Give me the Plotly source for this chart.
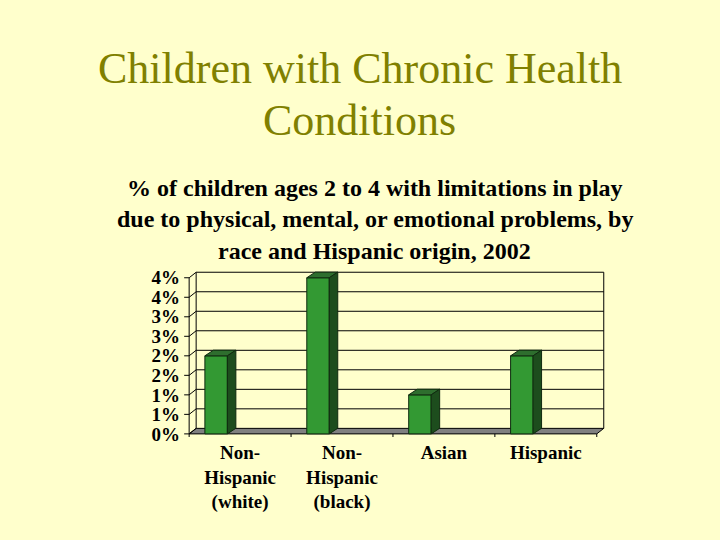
import plotly.graph_objects as go

# ---- data ----
categories = ["Non-<br>Hispanic<br>(white)", "Non-<br>Hispanic<br>(black)", "Asian", "Hispanic"]
values = [2.0, 4.0, 1.0, 2.0]
ytick_vals = [0, 0.5, 1, 1.5, 2, 2.5, 3, 3.5, 4]
ytick_text = ["0%", "1%", "1%", "2%", "2%", "3%", "3%", "4%", "4%"]
title_lines = ["Children with Chronic Health", "Conditions"]
subtitle_lines = ["% of children ages 2 to 4 with limitations in play",
                  "due to physical, mental, or emotional problems, by",
                  "race and Hispanic origin, 2002"]

# ---- geometry / styling ----
W, H = 720, 540
XR = [-0.58, 3.62]
YR = [-0.08, 4.25]
PX_X = 102.0
PX_Y = 38.9
plot_w = (XR[1] - XR[0]) * PX_X
plot_h = (YR[1] - YR[0]) * PX_Y
left = 189 + (XR[0] + 0.5) * PX_X
bottom_px = 433.5 + (0 - YR[0]) * PX_Y
top_px = bottom_px - plot_h
M_L, M_R = left, W - left - plot_w
M_T, M_B = top_px, H - bottom_px

def py2paper(py):
    return (bottom_px - py) / plot_h

BG = "#FFFFCC"
FONT = "Liberation Serif, Times New Roman, Times, serif"
dxf, dyf = 7 / PX_X, 5.5 / PX_Y      # floor/wall depth
dxb, dyb = 8.5 / PX_X, 5.6 / PX_Y    # bar depth
bar_shift = -24 / PX_X
bar_w = 22.5 / PX_X
ymax = ytick_vals[-1]
x0, x1 = -0.5, len(values) - 0.5

fig = go.Figure()

# front faces
xpos = [i + bar_shift for i in range(len(values))]
fig.add_trace(go.Bar(x=xpos, y=values, width=bar_w, marker=dict(color="#339933",
                     line=dict(color="#0f2a0f", width=1)), hoverinfo="skip"))

# top and side faces
top_x, top_y, side_x, side_y = [], [], [], []
for xc, v in zip(xpos, values):
    a, b = xc - bar_w / 2, xc + bar_w / 2
    top_x += [a, b, b + dxb, a + dxb, a, None]
    top_y += [v, v, v + dyb, v + dyb, v, None]
    side_x += [b, b + dxb, b + dxb, b, b, None]
    side_y += [0, dyb, v + dyb, v, 0, None]
fig.add_trace(go.Scatter(x=top_x, y=top_y, fill="toself", fillcolor="#2E6E2E",
                         mode="lines", line=dict(color="#0f2a0f", width=1), hoverinfo="skip"))
fig.add_trace(go.Scatter(x=side_x, y=side_y, fill="toself", fillcolor="#1D4D1D",
                         mode="lines", line=dict(color="#0f2a0f", width=1), hoverinfo="skip"))

shapes = []
LINE = dict(color="black", width=1)
# floor
shapes.append(dict(type="path", layer="below",
                   path=f"M {x0} 0 L {x1} 0 L {x1+dxf} {dyf} L {x0+dxf} {dyf} Z",
                   fillcolor="#808080", line=LINE))
# back wall gridlines
for t in ytick_vals[1:]:
    shapes.append(dict(type="line", layer="below", x0=x0 + dxf, x1=x1 + dxf,
                       y0=t + dyf, y1=t + dyf, line=LINE))
# back wall verticals
for xv in (x0 + dxf, x1 + dxf):
    shapes.append(dict(type="line", layer="below", x0=xv, x1=xv, y0=dyf, y1=ymax + dyf, line=LINE))
# front left axis
shapes.append(dict(type="line", layer="below", x0=x0, x1=x0, y0=0, y1=ymax, line=LINE))
# left wall diagonals and tick marks
for t in ytick_vals:
    shapes.append(dict(type="line", layer="below", x0=x0, x1=x0 + dxf, y0=t, y1=t + dyf, line=LINE))
    shapes.append(dict(type="line", layer="below", x0=x0 - 5 / PX_X, x1=x0, y0=t, y1=t, line=LINE))
# category boundary ticks
for k in range(len(values) + 1):
    xb = x0 + k
    shapes.append(dict(type="line", layer="below", x0=xb, x1=xb, y0=0, y1=-4 / PX_Y, line=LINE))

annotations = []
title_y = [69, 121]
for line, yy in zip(title_lines, title_y):
    annotations.append(dict(text=line, xref="paper", yref="paper",
                            x=(360 - M_L) / plot_w, y=py2paper(yy),
                            xanchor="center", yanchor="middle", showarrow=False,
                            font=dict(family=FONT, size=44, color="#808000")))
sub_y = [188, 219, 251]
for line, yy in zip(subtitle_lines, sub_y):
    annotations.append(dict(text=line, xref="paper", yref="paper",
                            x=(375 - M_L) / plot_w, y=py2paper(yy),
                            xanchor="center", yanchor="middle", showarrow=False,
                            font=dict(family=FONT, size=24, color="black", weight="bold")))

fig.update_layout(
    width=W, height=H, paper_bgcolor=BG, plot_bgcolor=BG, showlegend=False,
    margin=dict(l=M_L, r=M_R, t=M_T, b=M_B, pad=0),
    shapes=shapes, annotations=annotations,
    xaxis=dict(range=XR, tickvals=list(range(len(categories))), ticktext=categories,
               showgrid=False, zeroline=False, showline=False, ticks="",
               ticklabelstandoff=2,
               tickfont=dict(family=FONT, size=19, color="black", weight="bold")),
    yaxis=dict(range=YR, tickvals=ytick_vals, ticktext=ytick_text,
               showgrid=False, zeroline=False, showline=False, ticks="",
               tickfont=dict(family=FONT, size=19, color="black", weight="bold")),
)

fig.write_html("out.html", config={"displayModeBar": False},
               post_script="document.body.style.margin='0';document.body.style.background='#FFFFCC';")
